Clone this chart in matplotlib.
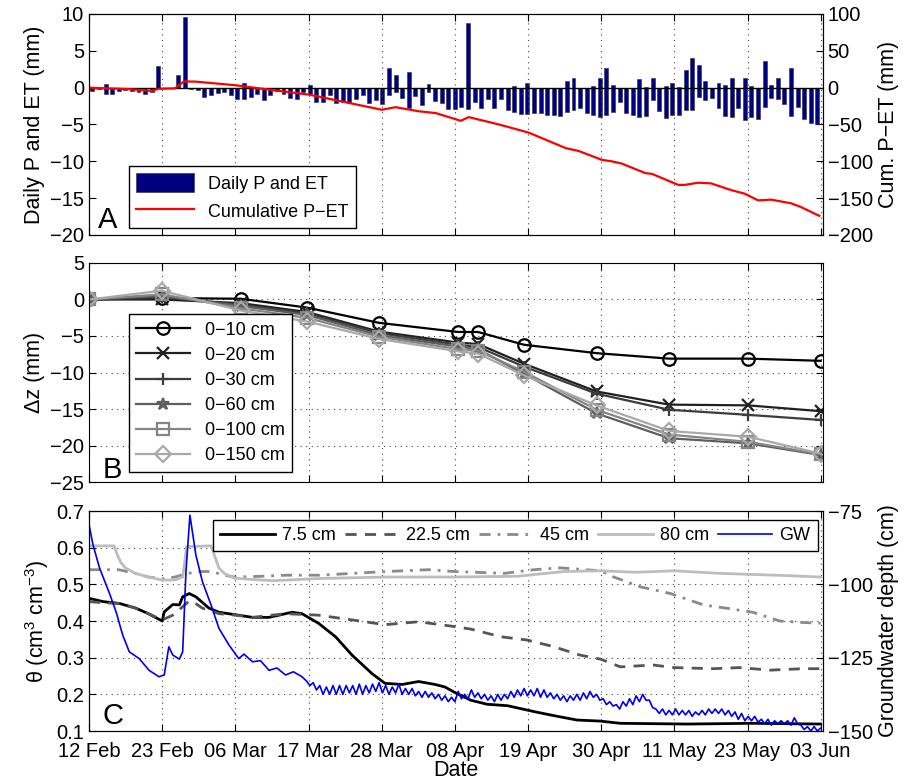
import numpy as np
import matplotlib
matplotlib.use('Agg')
import matplotlib.pyplot as plt

plt.rcParams['font.family'] = ['Liberation Sans', 'DejaVu Sans']
plt.rcParams['font.size'] = 14.5
plt.rcParams['axes.labelsize'] = 15.5
plt.rcParams['mathtext.fontset'] = 'custom'
plt.rcParams['mathtext.rm'] = 'Liberation Sans'
plt.rcParams['xtick.direction'] = 'in'
plt.rcParams['ytick.direction'] = 'in'
plt.rcParams['xtick.major.size'] = 5
plt.rcParams['ytick.major.size'] = 5
plt.rcParams['xtick.major.pad'] = 8

# x axis: days since 12 Feb
tick_labels = ['12 Feb', '23 Feb', '06 Mar', '17 Mar', '28 Mar', '08 Apr',
               '19 Apr', '30 Apr', '11 May', '23 May', '03 Jun']

# --- panel A: daily precipitation (up) and ET (down), mm
P = [0, 0, 0.5, 0, 0, 0, 0, 0, 0, 0,
     3.0, 0, 0, 1.7, 9.6, 0, 0, 0, 0, 0,
     0, 0, 0, 0.6, 0, 0, 0, 0, 0, 0,
     0, 0, 0, 0.4, 0, 0, 0, 0, 0, 0,
     0, 0, 0, 0, 0, 2.7, 1.7, 0, 2.15, 0,
     0, 0.5, 0, 0, 0, 0, 0, 8.8, 0, 0,
     0, 0, 0, 0, 0.2, 0, 0.7, 0, 0, 0,
     0, 0, 0.9, 1.3, 0, 0, 0.2, 1.35, 2.7, 0.3,
     0, 0, 0, 1.15, 0.1, 1.3, 0, 0.2, 0.7, 0.1,
     2.4, 4.0, 3.05, 0.95, 0, 0.6, 0.3, 1.25, 0, 1.25,
     0.2, 0, 3.6, 0.4, 1.25, 0, 2.7, 0, 0, 0,
     0]
ET = [0.4, 0.2, 0.8, 0.9, 0.5, 0.3, 0.4, 0.6, 0.9, 0.6,
      0.1, 0.1, 0.1, 0.05, 0.0, 0.2, 0.3, 1.25, 1.0, 0.7,
      0.6, 0.95, 1.5, 1.6, 1.2, 0.8, 1.7, 1.0, 0.45, 0.9,
      1.35, 1.5, 0.6, 0.9, 1.9, 1.9, 1.05, 2.1, 1.9, 2.05,
      1.5, 1.05, 2.1, 1.7, 2.2, 1.05, 0.6, 1.4, 2.8, 1.15,
      2.4, 0.6, 1.8, 2.05, 2.9, 2.85, 2.65, 2.85, 1.95, 2.7,
      1.6, 2.7, 1.5, 3.05, 3.25, 3.6, 3.6, 3.5, 3.5, 3.7,
      3.7, 3.9, 3.3, 3.0, 2.7, 3.5, 3.7, 4.05, 3.7, 3.25,
      2.0, 3.5, 3.7, 4.0, 3.8, 1.7, 3.2, 4.15, 3.7, 3.7,
      3.0, 3.0, 1.25, 1.7, 1.35, 2.7, 3.8, 4.05, 2.7, 4.35,
      4.0, 4.25, 2.6, 1.4, 1.6, 2.25, 3.9, 2.6, 4.25, 4.8,
      5.0]
bar_day = np.arange(len(P)) + 0.5

cum_day = [0, 6, 9.5, 10.5, 13, 14.4, 16.2, 22.2, 27.6, 33.4, 39.3, 44.4, 46.5,
           50, 52.6, 56.4, 57.6, 62.2, 66.7, 72.3, 74.3, 77.8, 79.3, 80.8, 84.4,
           85.4, 89.4, 90.4, 92.4, 94.4, 97.4, 99.5, 101.5, 103.5, 106.5, 108,
           110.8]
cum_pet = [0, -2, -4.5, -1.5, -1, 8.5, 8.2, 3.3, -3, -9.5, -20.5, -30, -26.5,
           -32, -34.5, -45, -40, -50, -61, -82, -86, -98, -100, -103, -116,
           -117, -132, -132, -129, -130, -139, -144, -153, -152, -157, -162,
           -174]

# --- panel B: storage change, mm
dz_day = [0, 11, 23, 33, 44, 56, 59, 66, 77, 88, 100, 111]
dz_labels = ['0\u221210 cm', '0\u221220 cm', '0\u221230 cm', '0\u221260 cm',
             '0\u2212100 cm', '0\u2212150 cm']
dz_10 = [0, 0.2, 0.1, -1.1, -3.2, -4.45, -4.45, -6.2, -7.35, -8.1, -8.1, -8.4]
dz_20 = [0, 0.0, -0.5, -1.7, -4.4, -5.9, -6.1, -8.8, -12.6, -14.4, -14.5, -15.3]
dz_30 = [0, 0.3, -0.7, -1.9, -4.6, -6.2, -6.5, -9.2, -12.9, -15.1, -15.8, -16.5]
dz_60 = [0, 0.5, -0.9, -2.1, -4.9, -6.45, -6.8, -10.2, -15.6, -19.0, -19.7, -21.3]
dz_100 = [0, 0.7, -1.2, -2.5, -5.1, -6.8, -7.0, -9.9, -15.1, -18.5, -19.5, -21.2]
dz_150 = [0, 1.2, -1.5, -3.0, -5.4, -7.1, -7.4, -10.4, -14.5, -18.0, -18.8, -21.1]

# --- panel C: soil moisture (theta) and groundwater depth
d80 = [0, 3.8, 4.3, 4.8, 5.5, 7, 9, 11, 13, 14.2, 14.5, 14.8, 18.5, 19.0, 19.7,
       20.5, 22, 25, 28, 35, 45, 55, 65, 72, 77.6, 83, 88.7, 95.7, 105.8, 111]
th80 = [0.605, 0.605, 0.58, 0.56, 0.545, 0.53, 0.52, 0.512, 0.512, 0.52, 0.56,
        0.603, 0.605, 0.58, 0.545, 0.53, 0.517, 0.513, 0.51, 0.516, 0.52, 0.52,
        0.522, 0.535, 0.537, 0.533, 0.537, 0.53, 0.524, 0.52]
d45 = [0, 4.5, 7, 9, 11.1, 13, 15, 17, 18.8, 20, 22, 26, 30, 35, 40, 45, 51.5,
       55.4, 63, 67.5, 71.5, 77.6, 79.6, 83.7, 88.2, 93.2, 96.7, 100.7, 104.8,
       108.3, 111]
th45 = [0.54, 0.54, 0.53, 0.52, 0.515, 0.52, 0.53, 0.535, 0.535, 0.527, 0.52,
        0.522, 0.525, 0.525, 0.53, 0.535, 0.54, 0.535, 0.53, 0.54, 0.545, 0.537,
        0.52, 0.493, 0.475, 0.444, 0.435, 0.424, 0.4, 0.396, 0.394]
d22 = [0, 2, 4.6, 7.1, 9, 11.1, 12.7, 14.2, 15.2, 16, 17.2, 19.7, 22.2, 24.8,
       29.8, 34.8, 39.9, 44.9, 50, 55.4, 57.9, 62.5, 66.5, 70.5, 74.5, 77.6,
       80.6, 85.6, 88.7, 94.7, 98.7, 103.3, 108.3, 111]
th22 = [0.453, 0.45, 0.448, 0.435, 0.42, 0.403, 0.416, 0.439, 0.455, 0.45,
        0.435, 0.42, 0.416, 0.41, 0.42, 0.416, 0.403, 0.39, 0.398, 0.385, 0.378,
        0.357, 0.348, 0.33, 0.307, 0.296, 0.275, 0.28, 0.273, 0.27, 0.273,
        0.266, 0.27, 0.27]
d7 = [0, 2.1, 4.6, 7.1, 9, 11.1, 11.4, 12.7, 13.7, 14.2, 15.2, 16.2, 18.2, 19.7,
      24.8, 27.3, 30.8, 32.3, 34.8, 37.4, 39.9, 42.9, 44.9, 47.5, 50, 52.5, 54,
      55.5, 57.9, 60.4, 63.5, 67.5, 70.5, 74, 77.6, 80.6, 90.7, 100.7, 111]
th7 = [0.462, 0.453, 0.448, 0.435, 0.42, 0.4, 0.425, 0.445, 0.444, 0.466,
       0.475, 0.466, 0.435, 0.424, 0.41, 0.41, 0.424, 0.42, 0.394, 0.357, 0.307,
       0.257, 0.23, 0.227, 0.235, 0.227, 0.22, 0.205, 0.184, 0.173, 0.169,
       0.153, 0.142, 0.13, 0.127, 0.121, 0.119, 0.121, 0.119]

# groundwater depth (cm): flood events, then half-daily readings from day 33
gw_day_early = [0, 0.6, 1.6, 3.1, 4.1, 5.1, 6.1, 7.6, 9.1, 10.6, 11.4, 12.1,
                12.7, 13.7, 14.2, 14.7, 15.3, 16.2, 17.2, 18.5, 19.7, 21.2,
                22.7, 23.5, 24.8, 26.0, 27.3, 28.5, 29.8, 31.0, 32.3]
gw_early = [-79.8, -86.6, -94.5, -103.1, -109.4, -117.3, -123, -125.3, -129.3,
            -131.5, -130.9, -121.3, -124.1, -125.5, -123, -95.6, -76.4, -90,
            -99.1, -107, -115, -120.6, -125.3, -123.8, -126.4, -126.0, -129.3,
            -128.5, -130.9, -129.8, -131.5]
gw_late = [-133.0, -134.5, -133.5, -136.0, -134.5, -137.5, -135.0, -137.5,
           -134.5, -137.5, -134.5, -137.5, -134.5, -137.0, -134.5, -137.5,
           -134.0, -137.5, -134.5, -137.0, -134.0, -136.5, -133.5, -137.0,
           -134.5, -137.5, -135.0, -137.0, -134.0, -137.5, -135.5, -137.5,
           -135.5, -138.0, -136.5, -138.5, -136.5, -138.5, -137.0, -139.0,
           -137.5, -139.5, -138.0, -140.0, -138.5, -140.0, -136.5, -139.0,
           -137.5, -139.0, -136.0, -138.5, -137.0, -139.0, -137.5, -139.5,
           -138.0, -140.0, -137.5, -139.5, -137.5, -139.0, -136.5, -138.5,
           -136.0, -138.0, -135.5, -138.0, -136.0, -138.0, -135.5, -138.5,
           -136.0, -138.5, -137.0, -139.0, -137.5, -139.5, -138.0, -140.0,
           -138.0, -139.5, -137.5, -139.5, -137.0, -139.0, -136.5, -138.5,
           -137.5, -139.5, -139.0, -141.0, -140.0, -141.5, -141.0, -142.5,
           -140.0, -141.5, -139.0, -141.0, -138.0, -140.0, -137.5, -139.5,
           -139.5, -142.0, -142.5, -144.0, -142.5, -144.5, -143.0, -144.5,
           -142.5, -144.5, -143.0, -144.5, -143.0, -145.0, -143.5, -144.5,
           -143.0, -144.5, -142.5, -144.0, -142.5, -144.0, -142.5, -144.5,
           -143.0, -145.0, -143.5, -146.0, -144.0, -146.5, -145.0, -146.5,
           -145.0, -147.0, -146.0, -147.5, -146.0, -148.0, -146.5, -147.5,
           -146.5, -147.5, -146.5, -148.0, -145.5, -147.5, -148.0, -149.5,
           -148.5, -150.0, -148.5, -150.0, -149.0]
gw_day = np.concatenate([gw_day_early, 33 + 0.5 * np.arange(len(gw_late))])
gw = np.concatenate([gw_early, gw_late])

tick_days = np.linspace(0, 111, len(tick_labels))
xmax = 111.3
grid_kw = dict(color='#444444', linestyle=(0, (1, 4)), linewidth=0.8)
leg_kw = dict(fancybox=False, edgecolor='black', framealpha=1, fontsize=13,
              borderaxespad=0)

fig = plt.figure(figsize=(9.09, 7.82), dpi=100)

# ---------------- A
axA = fig.add_axes([0.098, 0.6995, 0.807, 0.2826])
bP = axA.bar(bar_day, P, width=0.6, color='#00007f', edgecolor='#2a2a55',
             linewidth=0.4)
axA.bar(bar_day, -np.array(ET), width=0.6, color='#00007f',
        edgecolor='#2a2a55', linewidth=0.4)
axA.axhline(0, color='black', linewidth=1.0)
axA.set_ylim(-20, 10)
axA.set_yticks(np.arange(-20, 11, 5))
axA.set_xlim(0, xmax)
axA.set_xticks(tick_days)
axA.set_xticklabels([])
axA.xaxis.grid(True, **grid_kw)
axA.tick_params(top=True, right=False)
axA.set_ylabel('Daily P and ET (mm)')
axA2 = axA.twinx()
lC, = axA2.plot(cum_day, cum_pet, color='red', linewidth=1.6)
axA2.set_ylim(-200, 100)
axA2.set_yticks(np.arange(-200, 101, 50))
axA2.set_ylabel('Cum. P\u2212ET (mm)')
axA2.legend([bP, lC], ['Daily P and ET', 'Cumulative P\u2212ET'],
            loc='lower left', bbox_to_anchor=(0.054, 0.03), handlelength=3.2,
            handleheight=1.2, **leg_kw)
axA.text(0.012, 0.03, 'A', transform=axA.transAxes, fontsize=21)

# ---------------- B
axB = fig.add_axes([0.098, 0.3836, 0.807, 0.2801])
series = [dz_10, dz_20, dz_30, dz_60, dz_100, dz_150]
colors = ['#000000', '#202020', '#3c3c3c', '#5e5e5e', '#858585', '#a9a9a9']
markers = ['o', 'x', '+', '*', 's', 'D']
sizes = [9, 8, 9, 9, 8, 8]
for vals, lab, c, m, s in zip(series, dz_labels, colors, markers, sizes):
    axB.plot(dz_day, vals, color=c, marker=m, markersize=s,
             markerfacecolor='none', markeredgewidth=1.6, linewidth=1.6,
             label=lab)
axB.set_ylim(-25, 5)
axB.set_yticks(np.arange(-25, 6, 5))
axB.set_xlim(0, xmax)
axB.set_xticks(tick_days)
axB.set_xticklabels([])
axB.grid(True, **grid_kw)
axB.tick_params(top=True, right=True)
axB.set_ylabel('\u0394z (mm)')
axB.legend(loc='upper left', bbox_to_anchor=(0.054, 0.765), handlelength=3.0,
           labelspacing=0.45, **leg_kw)
axB.text(0.018, 0.02, 'B', transform=axB.transAxes, fontsize=21)

# ---------------- C
axC = fig.add_axes([0.098, 0.0652, 0.807, 0.2813])
l7, = axC.plot(d7, th7, color='black', linewidth=2.0)
l22, = axC.plot(d22, th22, color='#555555', linewidth=2.0,
                linestyle=(0, (4, 3)))
l45, = axC.plot(d45, th45, color='#8a8a8a', linewidth=2.0,
                linestyle=(0, (4, 2.5, 1, 2.5)))
l80, = axC.plot(d80, th80, color='#bdbdbd', linewidth=2.0)
axC.set_ylim(0.1, 0.7)
axC.set_yticks(np.arange(0.1, 0.71, 0.1))
axC.set_xlim(0, xmax)
axC.set_xticks(tick_days)
axC.set_xticklabels(tick_labels)
axC.grid(True, **grid_kw)
axC.tick_params(top=True, right=False)
axC.set_ylabel('\u03b8 (cm$^3$ cm$^{-3}$)')
axC.set_xlabel('Date', labelpad=-1)
axC2 = axC.twinx()
lgw, = axC2.plot(gw_day, gw, color='#0000ee', linewidth=1.2)
axC2.set_ylim(-150, -75)
axC2.set_yticks([-150, -125, -100, -75])
axC2.set_ylabel('Groundwater depth (cm)')
axC2.legend([l7, l22, l45, l80, lgw],
            ['7.5 cm', '22.5 cm', '45 cm', '80 cm', 'GW'], ncol=5,
            loc='upper right', bbox_to_anchor=(0.993, 0.96), handlelength=3.0,
            columnspacing=0.5, handletextpad=0.4, **leg_kw)
axC.text(0.018, 0.03, 'C', transform=axC.transAxes, fontsize=21)

plt.savefig('out.png', dpi=100)
